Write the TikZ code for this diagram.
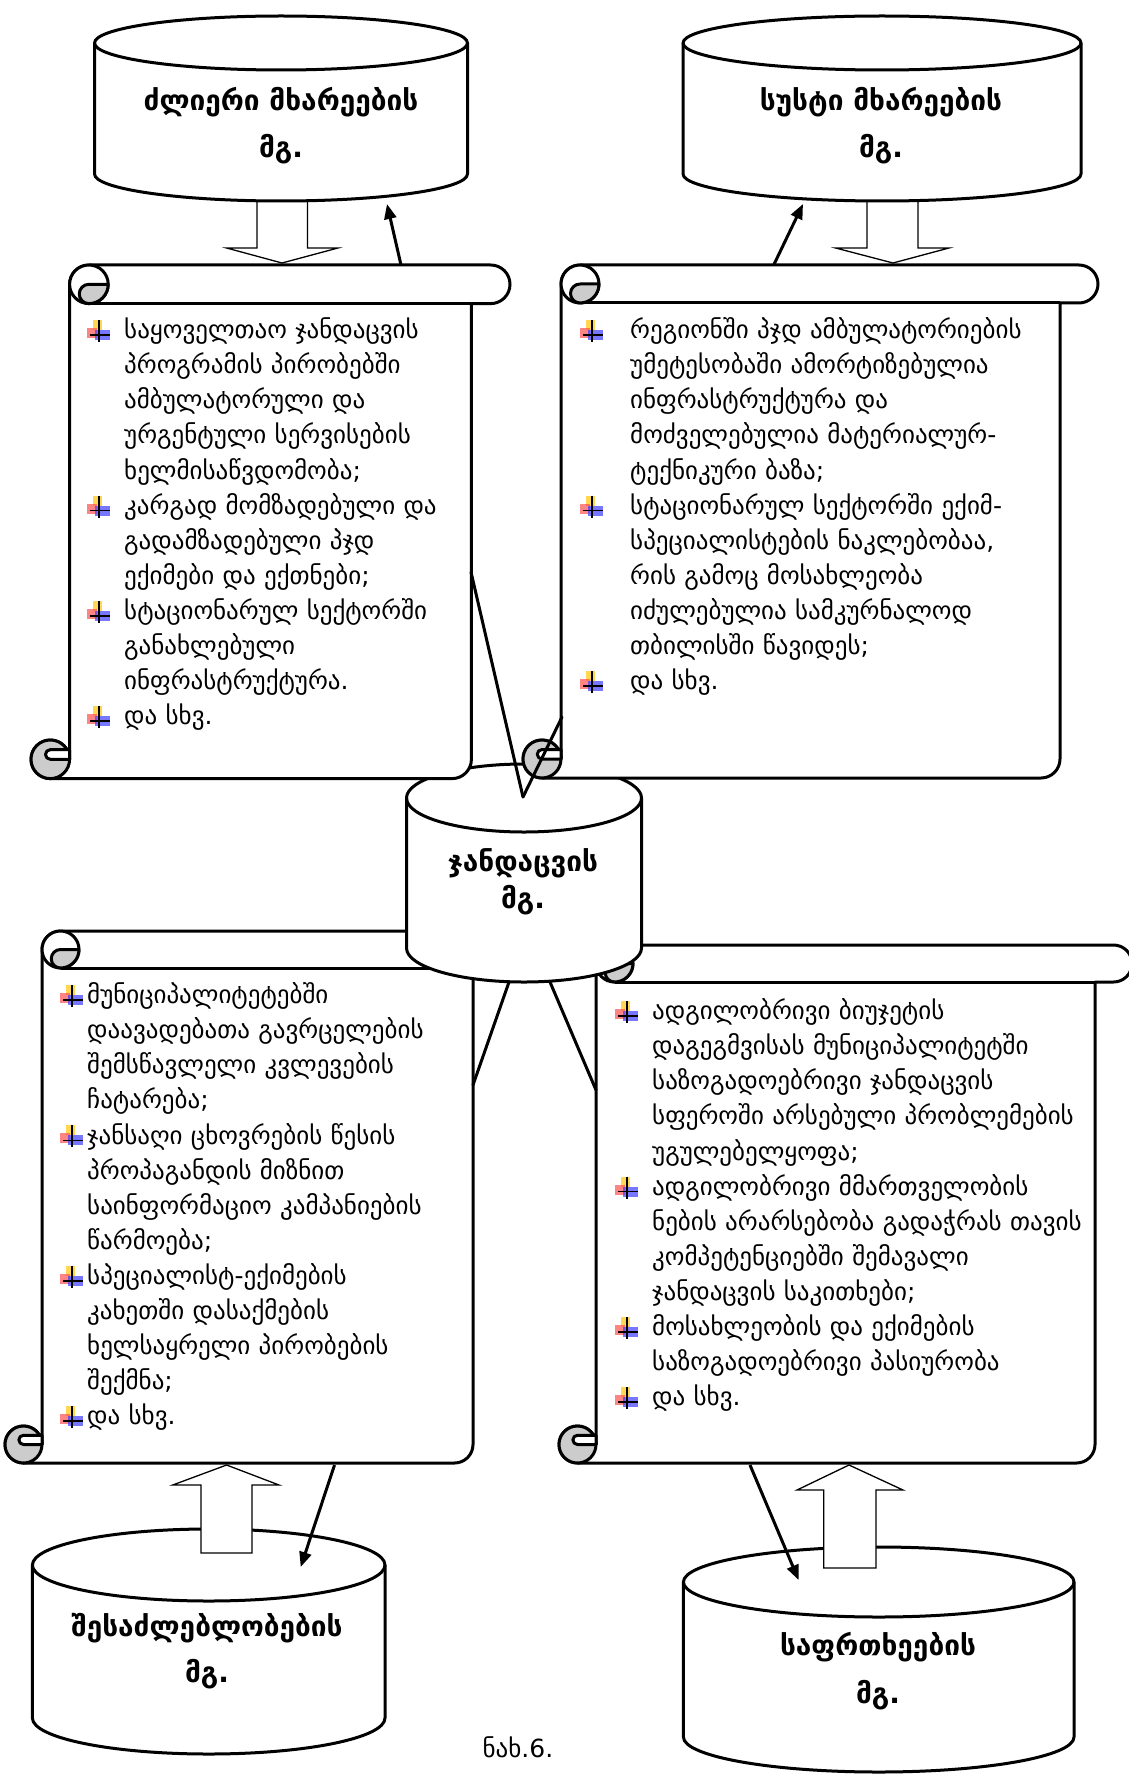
\documentclass[tikz,border=0pt]{standalone}
\usepackage{fontspec}
\setmainfont{DejaVu Sans}
\usetikzlibrary{arrows.meta}
\definecolor{scrollgray}{RGB}{204,204,204}
\definecolor{bulyel}{RGB}{255,205,40}
\definecolor{bulred}{RGB}{255,80,80}
\definecolor{bulblue}{RGB}{60,60,255}
\tikzset{
  scrollline/.style={line width=3pt, line join=round},
  cylline/.style={line width=3pt, line join=round},
  blockarrow/.style={line width=1.3pt, fill=white, line join=miter},
  thinarrow/.style={line width=3pt, -{Triangle[length=15pt,width=12pt]}},
  connline/.style={line width=3pt, line cap=round},
  bodytext/.style={font=\fontsize{25}{35.1}\selectfont, text width=520pt, align=left, inner sep=0pt, anchor=base west},
  titletext/.style={font=\bfseries\fontsize{28}{32}\selectfont, inner sep=0pt, anchor=base},
}
% scroll: L T R B C
\newcommand\scrollshape[5]{%
  \draw[scrollline, fill=white] (#1+#5, #4-#5/2) -- (#1+#5, #2+#5/2)
    arc[start angle=180, end angle=270, radius=#5/2] -- (#3-#5/2, #2)
    arc[start angle=270, end angle=450, radius=#5/2] -- (#3-#5, #2+#5)
    -- (#3-#5, #4-#5/2) arc[start angle=0, end angle=90, radius=#5/2]
    -- (#1+#5/2, #4) arc[start angle=90, end angle=360, radius=#5/2] -- cycle;
  \draw[scrollline] (#1+1.5*#5, #2+#5) -- (#3-#5, #2+#5);
  \draw[scrollline, fill=white] (#1+1.5*#5, #2+#5/2) circle[radius=#5/2];
  \draw[scrollline, fill=scrollgray] (#1+2*#5, #2+#5/2) arc[start angle=0, end angle=90, radius=#5/2]
    arc[start angle=90, end angle=270, radius=#5/4] -- cycle;
  \draw[scrollline, fill=scrollgray] (#1+#5/2, #4-#5/2) circle[radius=#5/2];
  \draw[scrollline, fill=white] (#1+#5/2, #4-0.75*#5) -- (#1+#5, #4-0.75*#5) -- (#1+#5, #4-#5/2)
    -- (#1+#5/2, #4-#5/2) arc[start angle=90, end angle=270, radius=#5/8] -- cycle;
}
% cylinder: cx ytop ybot rx ry
\newcommand\cylshape[5]{%
  \draw[cylline, fill=white] (#1-#4, #2) -- (#1-#4, #3)
    arc[start angle=180, end angle=0, x radius=#4, y radius=#5] -- (#1+#4, #2)
    arc[start angle=0, end angle=-180, x radius=#4, y radius=#5] -- cycle;
  \draw[cylline] (#1-#4, #2) arc[start angle=180, end angle=0, x radius=#4, y radius=#5];
}
% bullet at centre x y
\newcommand\bul[2]{%
  \fill[bulyel, fill opacity=0.8] (#1-6, #2-12) rectangle (#1+3, #2-2);
  \fill[bulred, fill opacity=0.7] (#1-12, #2-4) rectangle (#1-2, #2+6);
  \fill[bulblue, fill opacity=0.7] (#1-4, #2-2) rectangle (#1+11, #2+8);
  \draw[line width=1.8pt] (#1, #2-12) -- (#1, #2+10);
  \draw[line width=1.8pt] (#1-9, #2+3) -- (#1+11, #2+3);
}
\begin{document}
\begin{tikzpicture}[x=1pt, y=-1pt]
\useasboundingbox[fill=white] (0,0) rectangle (1128,1776);

% hollow arrows down (behind top cylinders)
\draw[blockarrow] (257,190) -- (257,248) -- (226.6,248) -- (282,263) -- (338,248) -- (307.5,248) -- (307.5,190) -- cycle;
\draw[blockarrow] (867,190) -- (867,248) -- (835.6,248) -- (893,263) -- (949,248) -- (918,248) -- (918,190) -- cycle;

% top cylinders
\cylshape{281}{43}{174}{186.5}{27}
\cylshape{882}{43}{174}{199}{27}

% bottom scrolls
\scrollshape{5}{931}{510}{1463}{37}
\scrollshape{559}{945}{1132}{1463}{37}

% centre cylinder
\cylshape{524}{798}{948}{117.5}{34}

% top scrolls
\scrollshape{31}{265}{510}{778.6}{38.6}
\scrollshape{523}{265}{1098}{778}{38}

% bottom cylinders
\cylshape{208.7}{1565}{1718}{176.3}{36}
\cylshape{878.7}{1582}{1737}{195.3}{35}

% hollow arrows up
\draw[blockarrow] (201,1553) -- (201,1485) -- (172.7,1485) -- (226.6,1465) -- (279,1485) -- (252,1485) -- (252,1553) -- cycle;
\draw[blockarrow] (823.7,1568) -- (823.7,1490) -- (797,1490) -- (849,1465) -- (903,1490) -- (876,1490) -- (876,1568) -- cycle;

% connector end points
\coordinate (tlS) at (401,265);   \coordinate (tlE) at (387,204);
\coordinate (trS) at (773.7,265); \coordinate (trE) at (803,204);
\coordinate (blS) at (334.5,1465);\coordinate (blE) at (300.7,1567);
\coordinate (brS) at (750,1465);  \coordinate (brE) at (798.6,1580);
\coordinate (tlL) at (471,572);   \coordinate (trL) at (562,717);
\coordinate (ctip) at (523,797);
\coordinate (cb1) at (509,982);   \coordinate (blR) at (473,1085);
\coordinate (cb2) at (550,982);   \coordinate (brL) at (596,1090);

\draw[thinarrow] (tlS) -- (tlE);
\draw[thinarrow] (trS) -- (trE);
\draw[thinarrow] (blS) -- (blE);
\draw[thinarrow] (brS) -- (brE);
\draw[connline] (tlL) -- (ctip);
\draw[connline] (trL) -- (ctip);
\draw[connline] (cb1) -- (blR);
\draw[connline] (cb2) -- (brL);

% titles
\node[titletext] (tlt1) at (281,111) {ძლიერი მხარეების};
\node[titletext] (tlt2) at (281,158) {მგ.};
\node[titletext] (trt1) at (881,111) {სუსტი მხარეების};
\node[titletext] (trt2) at (881,158) {მგ.};
\node[titletext] (ct1) at (523,871) {ჯანდაცვის};
\node[titletext] (ct2) at (523,908) {მგ.};
\node[titletext] (blt1) at (207,1636) {შესაძლებლობების};
\node[titletext] (blt2) at (207,1682) {მგ.};
\node[titletext] (brt1) at (878,1655) {საფრთხეების};
\node[titletext] (brt2) at (878,1703) {მგ.};
\node[font=\fontsize{25}{30}\selectfont, inner sep=0pt, anchor=base] (cap) at (518,1757) {ნახ.6.};

% scroll texts
\node[bodytext] (tltext) at (124,338.6) {საყოველთაო ჯანდაცვის\\პროგრამის პირობებში\\ამბულატორული და\\ურგენტული სერვისების\\ხელმისაწვდომობა;\\კარგად მომზადებული და\\გადამზადებული პჯდ\\ექიმები და ექთნები;\\სტაციონარულ სექტორში\\განახლებული\\ინფრასტრუქტურა.\\და სხვ.};
\node[bodytext] (trtext) at (630,338.6) {რეგიონში პჯდ ამბულატორიების\\უმეტესობაში ამორტიზებულია\\ინფრასტრუქტურა და\\მოძველებულია მატერიალურ-\\ტექნიკური ბაზა;\\სტაციონარულ სექტორში ექიმ-\\სპეციალისტების ნაკლებობაა,\\რის გამოც მოსახლეობა\\იძულებულია სამკურნალოდ\\თბილისში წავიდეს;\\და სხვ.};
\node[bodytext] (bltext) at (87,1003.6) {მუნიციპალიტეტებში\\დაავადებათა გავრცელების\\შემსწავლელი კვლევების\\ჩატარება;\\ჯანსაღი ცხოვრების წესის\\პროპაგანდის მიზნით\\საინფორმაციო კამპანიების\\წარმოება;\\სპეციალისტ-ექიმების\\კახეთში დასაქმების\\ხელსაყრელი პირობების\\შექმნა;\\და სხვ.};
\node[bodytext] (brtext) at (652,1019.6) {ადგილობრივი ბიუჯეტის\\დაგეგმვისას მუნიციპალიტეტში\\საზოგადოებრივი ჯანდაცვის\\სფეროში არსებული პრობლემების\\უგულებელყოფა;\\ადგილობრივი მმართველობის\\ნების არარსებობა გადაჭრას თავის\\კომპეტენციებში შემავალი\\ჯანდაცვის საკითხები;\\მოსახლეობის და ექიმების\\საზოგადოებრივი პასიურობა\\და სხვ.};

% bullets
\bul{99}{332}\bul{99}{507.5}\bul{99}{612.8}\bul{99}{718.1}
\bul{592}{332}\bul{592}{507.5}\bul{592}{683}
\bul{72}{997}\bul{72}{1137.4}\bul{72}{1277.8}\bul{72}{1418.2}
\bul{627}{1013}\bul{627}{1188.5}\bul{627}{1328.9}\bul{627}{1399.1}
\end{tikzpicture}
\end{document}
